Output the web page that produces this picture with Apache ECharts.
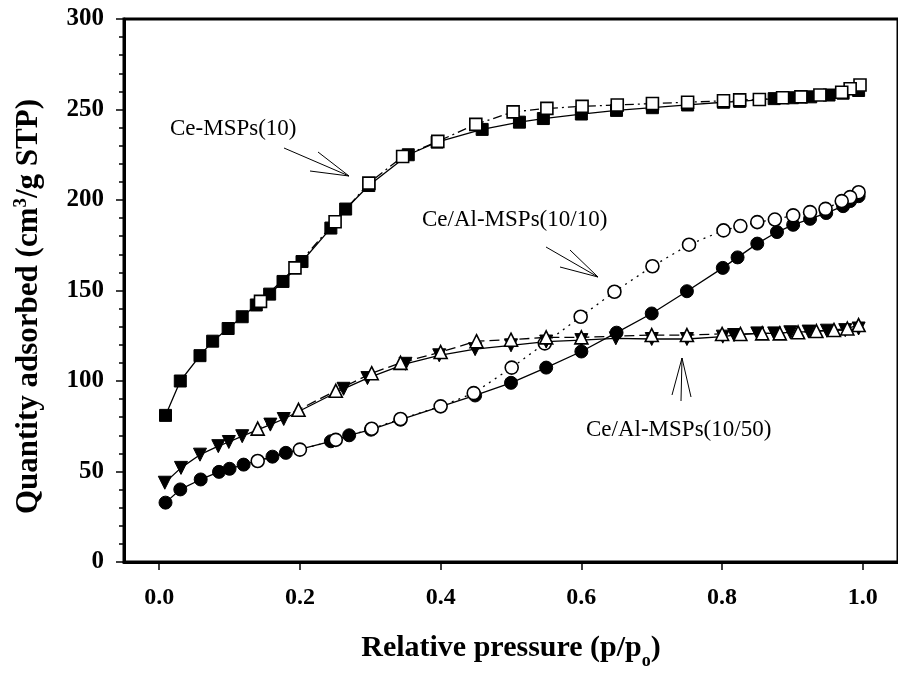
<!DOCTYPE html>
<html>
<head>
<meta charset="utf-8">
<script src="https://cdn.jsdelivr.net/npm/echarts@6/dist/echarts.min.js"></script>
<style>
html,body{margin:0;padding:0;background:#fff;}
#chart{width:898px;height:675px;}
</style>
</head>
<body>
<div id="chart"></div>
<script>
// ---- Data (relative pressure p/p0, quantity adsorbed cm3/g STP) ----
var ceAdsX = [0.009,0.030,0.058,0.076,0.098,0.118,0.138,0.157,0.176,0.203,0.244,0.265,0.298,0.354,0.395,0.459,0.512,0.546,0.600,0.650,0.701,0.751,0.802,0.825,0.874,0.900,0.926,0.952,0.972,0.994];
var ceAdsY = [81,100,114,122,129,135.5,142,148,155,166,184.5,195,208,225,232,239,243,245,247.5,249.5,251,252.5,254,254.5,256,256.5,257,258,259,260.5];
var ceDesX = [0.996,0.982,0.970,0.939,0.912,0.886,0.853,0.825,0.802,0.751,0.701,0.651,0.601,0.551,0.503,0.450,0.396,0.346,0.298,0.250,0.193,0.144];
var ceDesY = [263.5,261.5,259.5,258,257,256.5,255.5,255.3,254.8,254,253.3,252.5,251.7,250.6,248.7,241.8,232.4,224,209.3,188,162.5,144];

var al10AdsX = [0.009,0.030,0.059,0.085,0.100,0.120,0.161,0.180,0.244,0.270,0.301,0.343,0.449,0.500,0.550,0.600,0.650,0.700,0.750,0.801,0.822,0.850,0.878,0.901,0.925,0.948,0.972,0.982,0.994];
var al10AdsY = [32.8,40.1,45.6,49.8,51.5,53.8,58.2,60.3,66.7,70,73.1,78.6,92,99,107.4,116.3,126.7,137.3,149.6,162.5,168.3,175.9,182.3,186.3,189.6,192.8,196.6,199.4,202.1];
var al10DesX = [0.994,0.982,0.970,0.947,0.925,0.901,0.875,0.850,0.826,0.802,0.753,0.701,0.647,0.599,0.548,0.501,0.447,0.400,0.343,0.302,0.251,0.200,0.140];
var al10DesY = [204.3,201.6,199.4,195.1,193.3,191.5,189.2,187.8,185.6,183.2,175.3,163.4,149.3,135.5,120.8,107.4,93.3,86,79,73.6,67.5,62.1,55.8];

var al50AdsX = [0.008,0.031,0.058,0.084,0.099,0.118,0.158,0.177,0.262,0.296,0.350,0.398,0.449,0.500,0.550,0.600,0.649,0.700,0.750,0.801,0.817,0.850,0.874,0.897,0.923,0.949,0.975,0.994];
var al50AdsY = [43.8,52,59.3,64,66.3,69.5,75.9,79,95.7,101.6,109.5,114.2,117.6,119.7,121.8,122.6,123.6,123.2,123.2,124.5,125.4,126.3,126.3,126.9,127.3,127.8,128.1,129];
var al50DesX = [0.994,0.978,0.959,0.934,0.908,0.882,0.857,0.826,0.800,0.750,0.700,0.600,0.550,0.500,0.451,0.400,0.343,0.302,0.251,0.198,0.140];
var al50DesY = [130.9,129,128.2,127.6,126.9,126.3,126.3,126,126,125.4,125.4,124.1,124.1,122.8,122,116,110,104.3,94.6,84.1,73.7];

var xTicks = [0, 0.2, 0.4, 0.6, 0.8, 1.0];
var seriesLabels = ['Ce-MSPs(10)', 'Ce/Al-MSPs(10/10)', 'Ce/Al-MSPs(10/50)'];

function pairs(xs, ys){ return xs.map(function(x,i){ return [x, ys[i]]; }); }

var FONT = '"Liberation Serif", "Times New Roman", serif';

function mk(name, xs, ys, symbol, filled, lineType, rotate, size){
  return {
    name: name, type: 'line', data: pairs(xs, ys),
    symbol: symbol, symbolSize: size, symbolRotate: rotate || 0,
    showAllSymbol: true,
    lineStyle: {color: '#000', width: 1.3, type: lineType},
    itemStyle: {color: filled ? '#000' : '#fff', borderColor: '#000', borderWidth: filled ? 1 : 1.6, opacity: 1},
    emphasis: {disabled: true},
    animation: false
  };
}

var chart = echarts.init(document.getElementById('chart'), null, {renderer: 'canvas'});
var option = {
  backgroundColor: '#fff',
  animation: false,
  grid: {left: 124, top: 19, width: 777, height: 545, show: true, borderColor: '#000', borderWidth: 3, backgroundColor: 'transparent'},
  xAxis: {
    type: 'value', min: -0.05, max: 1.05,
    name: 'Relative pressure (p/p{sub|o})', nameLocation: 'middle', nameGap: 64,
    nameTextStyle: {fontFamily: FONT, fontWeight: 'bold', fontSize: 30, lineHeight: 44, color: '#000',
      rich: {sub: {fontFamily: FONT, fontWeight: 'bold', fontSize: 18, lineHeight: 18, verticalAlign: 'bottom', color:'#000'}}},
    axisLine: {show: true, onZero: false, lineStyle: {color: '#000', width: 3}},
    axisTick: {show: true, length: 8, lineStyle: {color: '#000', width: 1.5}, customValues: xTicks},
    axisLabel: {customValues: xTicks, fontFamily: FONT, fontWeight: 'bold', fontSize: 24, color: '#000', margin: 24,
      formatter: function(v){ return v.toFixed(1); }},
    splitLine: {show: false}
  },
  yAxis: {
    type: 'value', min: 0, max: 300, interval: 50,
    name: 'Quantity adsorbed (cm{sup|3}/g STP)', nameLocation: 'middle', nameGap: 78,
    nameTextStyle: {fontFamily: FONT, fontWeight: 'bold', fontSize: 31, lineHeight: 34, color: '#000', padding: [0, 32, 0, 0],
      rich: {sup: {fontFamily: FONT, fontWeight: 'bold', fontSize: 19, lineHeight: 19, verticalAlign: 'top', color:'#000'}}},
    axisLine: {show: true, onZero: false, lineStyle: {color: '#000', width: 3}},
    axisTick: {show: true, length: 8, lineStyle: {color: '#000', width: 1.5}},
    minorTick: {show: true, splitNumber: 5, length: 5, lineStyle: {color: '#000', width: 1.5}},
    axisLabel: {fontFamily: FONT, fontWeight: 'bold', fontSize: 25, color: '#000', margin: 20},
    splitLine: {show: false}, minorSplitLine: {show: false}
  },
  series: [
    mk(seriesLabels[0] + ' ads', ceAdsX, ceAdsY, 'rect', true, 'solid', 0, 12),
    mk(seriesLabels[0] + ' des', ceDesX, ceDesY, 'rect', false, [9,4,2,4], 0, 12),
    mk(seriesLabels[1] + ' ads', al10AdsX, al10AdsY, 'circle', true, 'solid', 0, 13),
    mk(seriesLabels[1] + ' des', al10DesX, al10DesY, 'circle', false, [2,5], 0, 13),
    mk(seriesLabels[2] + ' ads', al50AdsX, al50AdsY, 'triangle', true, 'solid', 180, 13),
    mk(seriesLabels[2] + ' des', al50DesX, al50DesY, 'triangle', false, [10,5], 0, 13)
  ],
  graphic: [
    {type:'text', left: 170, top: 117, style:{text: seriesLabels[0], font: '23px ' + FONT, fill:'#000'}},
    {type:'text', left: 422, top: 208, style:{text: seriesLabels[1], font: '23px ' + FONT, fill:'#000'}},
    {type:'text', left: 586, top: 418, style:{text: seriesLabels[2], font: '23px ' + FONT, fill:'#000'}},
    {type:'polyline', shape:{points:[[284,148],[349,176],[318,152]]}, style:{stroke:'#000', lineWidth:1, fill:null}},
    {type:'line', shape:{x1:310,y1:171,x2:349,y2:176}, style:{stroke:'#000', lineWidth:1}},
    {type:'polyline', shape:{points:[[546,247],[598,277],[570,250]]}, style:{stroke:'#000', lineWidth:1, fill:null}},
    {type:'line', shape:{x1:560,y1:267,x2:598,y2:277}, style:{stroke:'#000', lineWidth:1}},
    {type:'polyline', shape:{points:[[672,395],[682,358],[691,397]]}, style:{stroke:'#000', lineWidth:1, fill:null}},
    {type:'line', shape:{x1:681,y1:401,x2:682,y2:358}, style:{stroke:'#000', lineWidth:1}}
  ]
};
chart.setOption(option);
</script>
</body>
</html>
